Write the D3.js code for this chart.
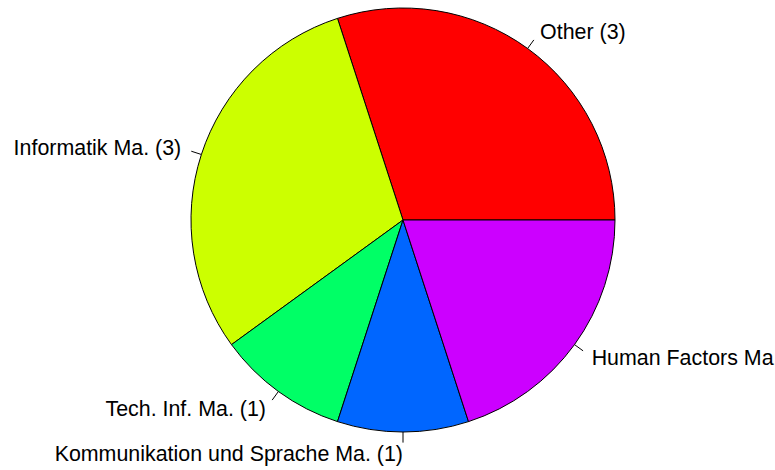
<!DOCTYPE html>
<html>
<head>
<meta charset="utf-8">
<script src="https://cdn.jsdelivr.net/npm/d3@7"></script>
<style>
  body { margin: 0; background: #fff; }
  text { font-family: "Liberation Sans", Arial, Helvetica, sans-serif; }
</style>
</head>
<body>
<div id="pie"></div>
<script>
// slices, counter-clockwise from 3 o'clock (R pie default)
var labels = ["Other (3)", "Informatik Ma. (3)", "Tech. Inf. Ma. (1)",
              "Kommunikation und Sprache Ma. (1)", "Human Factors Ma. (2)"];
var counts = [3, 3, 1, 1, 2];
var colors = ["#FF0000", "#CCFF00", "#00FF66", "#0066FF", "#CC00FF"];

var width = 775, height = 470;
var cx = 403, cy = 220, r = 212;

var svg = d3.select("#pie").append("svg")
    .attr("width", width)
    .attr("height", height)
  .append("g")
    .attr("transform", "translate(" + cx + "," + cy + ")");

var total = d3.sum(counts);
// cumulative fractions
var cum = [0];
counts.forEach(function(c, i) { cum.push(cum[i] + c / total); });

// angle in math sense (ccw from x axis) -> d3 arc angle (cw from 12 o'clock)
var toD3 = function(t) { return Math.PI / 2 - t * 2 * Math.PI; };

var arc = d3.arc().innerRadius(0).outerRadius(r);

var slices = counts.map(function(c, i) {
  return {
    label: labels[i], color: colors[i],
    startAngle: toD3(cum[i + 1]), endAngle: toD3(cum[i]),
    mid: (cum[i] + cum[i + 1]) / 2 * 2 * Math.PI
  };
});

svg.selectAll("path.slice")
    .data(slices)
  .enter().append("path")
    .attr("class", "slice")
    .attr("d", arc)
    .attr("fill", function(d) { return d.color; })
    .attr("stroke", "#000")
    .attr("stroke-width", 1);

// tick lines
svg.selectAll("line.tick")
    .data(slices)
  .enter().append("line")
    .attr("x1", function(d) { return r * Math.cos(d.mid); })
    .attr("y1", function(d) { return -r * Math.sin(d.mid); })
    .attr("x2", function(d) { return 1.05 * r * Math.cos(d.mid); })
    .attr("y2", function(d) { return -1.05 * r * Math.sin(d.mid); })
    .attr("stroke", "#000")
    .attr("stroke-width", 1);

// labels
svg.selectAll("text.lab")
    .data(slices)
  .enter().append("text")
    .attr("x", function(d) { return 1.1 * r * Math.cos(d.mid); })
    .attr("y", function(d) { return -1.1 * r * Math.sin(d.mid); })
    .attr("dy", "0.35em")
    .style("font-size", "21.4px")
    .style("fill", "#000")
    .style("text-anchor", function(d) { return Math.cos(d.mid) < 0 ? "end" : "start"; })
    .text(function(d) { return d.label; });
</script>
</body>
</html>
